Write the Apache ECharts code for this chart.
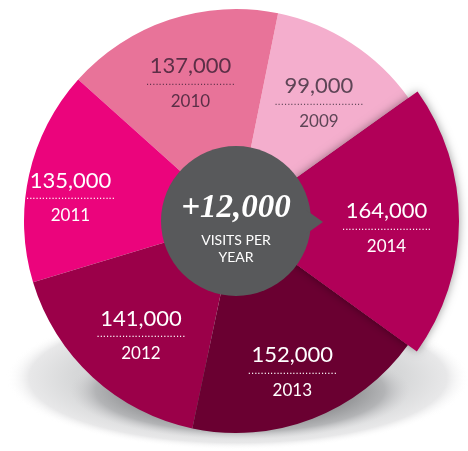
<!DOCTYPE html>
<html>
<head>
<meta charset="utf-8">
<script src="https://cdn.jsdelivr.net/npm/echarts@6/dist/echarts.min.js"></script>
<style>
  html, body { margin: 0; padding: 0; background: #fff; }
  #chartVisits { width: 468px; height: 451px; }
</style>
</head>
<body>
<div id="chartVisits"></div>
<script>
// 每年访问量
var years = ['2009', '2010', '2011', '2012', '2013', '2014'];
var visits = [99000, 137000, 135000, 141000, 152000, 164000];
var centerValue = 12000;
var centerCaption = ['VISITS PER', 'YEAR'];
var highlightYear = '2014';

var sliceColors = ['#f4aecd', '#e87399', '#eb047c', '#9b0049', '#6a0031', '#b10058'];
var labelColors = ['#5e4556', '#5c2f47', '#fff', '#fff', '#fff', '#fff'];
// 标签微调 (padding)
var labelPad = {
  '2009': [12, 0, 0, 8],
  '2010': [4, 0, 0, 0],
  '2011': [20, 48, 0, 0],
  '2012': [20, 0, 0, 6],
  '2013': [36, 0, 0, 8],
  '2014': [18, 0, 0, 6]
};

var cx = 236, cy = 221;

var chartVisits = echarts.init(document.getElementById('chartVisits'));

function fmt(v) {
  return v.toLocaleString('en-US');
}

function labelRich(color) {
  return {
    v: { fontFamily: 'Lato', fontSize: 22, lineHeight: 24, color: color },
    d: { fontFamily: 'DejaVu Sans', fontSize: 10, lineHeight: 8, color: color },
    y: { fontFamily: 'Lato', fontSize: 17, lineHeight: 30, color: color }
  };
}

function sliceLabel(i, show) {
  return {
    show: show,
    position: 'inside',
    padding: labelPad[years[i]],
    formatter: '{v|' + fmt(visits[i]) + '}\n{d|' + new Array(29).join('.') + '}\n{y|' + years[i] + '}',
    rich: labelRich(labelColors[i])
  };
}

var mainData = years.map(function (y, i) {
  return {
    name: y,
    value: visits[i],
    itemStyle: { color: sliceColors[i] },
    label: sliceLabel(i, y !== highlightYear)
  };
});

// 2014 画得更大
var popData = years.map(function (y, i) {
  var show = y === highlightYear;
  return {
    name: y,
    value: visits[i],
    itemStyle: show ? {
      color: sliceColors[i],
      shadowColor: 'rgba(0,0,0,.4)',
      shadowBlur: 10
    } : { color: 'transparent' },
    label: sliceLabel(i, show)
  };
});

var option = {
  animation: false,
  graphic: [
    {
      // 底部阴影
      type: 'circle',
      x: 238, y: 378,
      scaleY: 0.31,
      z: 0,
      shape: { cx: 0, cy: 0, r: 232 },
      style: {
        fill: new echarts.graphic.RadialGradient(0.5, 0.5, 0.5, [
          { offset: 0, color: '#c4c5c7' },
          { offset: 0.7, color: '#d6d7d8' },
          { offset: 0.9, color: '#e8e8e9' },
          { offset: 1, color: 'rgba(255,255,255,0)' }
        ])
      }
    },
    {
      type: 'circle',
      x: 240, y: 390,
      scaleY: 0.29,
      z: 1,
      shape: { cx: 0, cy: 0, r: 170 },
      style: {
        fill: new echarts.graphic.RadialGradient(0.5, 0.5, 0.5, [
          { offset: 0, color: '#68696b' },
          { offset: 0.6, color: '#8a8b8d' },
          { offset: 0.85, color: '#b3b4b6' },
          { offset: 1, color: 'rgba(210,210,212,0)' }
        ])
      }
    },
    {
      // 指向箭头
      type: 'polygon',
      z: 10,
      shape: { points: [[cx + 70, cy - 11], [cx + 87, cy + 1], [cx + 70, cy + 13]] },
      style: { fill: '#58595b' }
    }
  ],
  series: [
    {
      type: 'pie',
      silent: true,
      center: [cx, cy],
      radius: [72, 212],
      clockwise: false,
      startAngle: 35.5,
      itemStyle: { borderWidth: 0 },
      labelLine: { show: false },
      data: mainData,
      z: 2
    },
    {
      type: 'pie',
      silent: true,
      center: [cx, cy],
      radius: [66, 223],
      clockwise: false,
      startAngle: 35.5,
      itemStyle: { borderWidth: 0 },
      labelLine: { show: false },
      data: popData,
      z: 3
    },
    {
      // 中心圆
      type: 'pie',
      silent: true,
      center: [cx, cy],
      radius: [0, 75],
      itemStyle: { color: '#58595b', borderWidth: 0 },
      label: {
        show: true,
        position: 'center',
        padding: [8, 0, 0, 0],
        formatter: '{n|+' + fmt(centerValue) + '}\n{c|' + centerCaption.join('}\n{c|') + '}',
        rich: {
          n: { fontFamily: 'Liberation Serif', fontStyle: 'italic', fontWeight: 'bold', fontSize: 33, lineHeight: 47, color: '#fff' },
          c: { fontFamily: 'Lato', fontSize: 14, lineHeight: 17, color: '#fff' }
        }
      },
      labelLine: { show: false },
      data: [{ name: 'center', value: 1 }],
      z: 4
    }
  ]
};
chartVisits.setOption(option);

window.addEventListener('resize', function () {
  chartVisits.resize();
});
</script>
</body>
</html>
